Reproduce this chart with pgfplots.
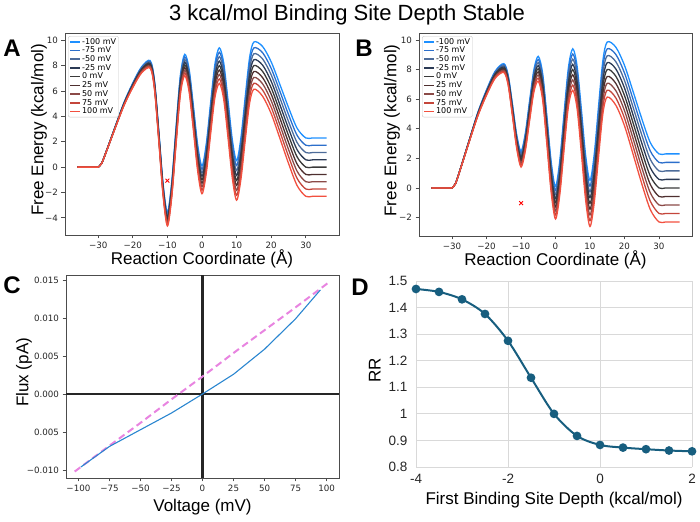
\documentclass[border=0pt]{standalone}
\usepackage{pgfplots}
\pgfplotsset{compat=1.18}
\usepackage{pgfplotstable}
\usepackage{fontspec}
\setmainfont{Liberation Sans}
\newfontfamily\dejavu{DejaVu Sans}
\definecolor{v1}{HTML}{1E90FF}
\definecolor{v2}{HTML}{2C6FCB}
\definecolor{v3}{HTML}{4D6C9A}
\definecolor{v4}{HTML}{2B3A55}
\definecolor{v5}{HTML}{3A3A3A}
\definecolor{v6}{HTML}{4E2F2F}
\definecolor{v7}{HTML}{8B4A47}
\definecolor{v8}{HTML}{C4463B}
\definecolor{v9}{HTML}{F2503F}
\definecolor{cblue}{HTML}{2A86D0}
\definecolor{cpink}{HTML}{E884E0}
\definecolor{dcol}{HTML}{175E7F}

\pgfplotstableread{
x m100 m75 m50 m25 z p25 p50 p75 p100
-36 0 0 0 0 0 0 0 0 0
-30 0 0 0 0 0 0 0 0 0
nan nan nan nan nan nan nan nan nan nan
-30 0 0 0 0 0 0 0 0 0
-29 0.31 0.31 0.305 0.305 0.3 0.295 0.295 0.29 0.29
-27.5 1.37 1.365 1.36 1.355 1.35 1.345 1.34 1.335 1.33
-25 3.26 3.245 3.23 3.215 3.2 3.185 3.17 3.155 3.14
-22.5 5.12 5.09 5.06 5.03 5.0 4.97 4.94 4.91 4.88
-20 6.63 6.585 6.54 6.495 6.45 6.405 6.36 6.315 6.27
-17.5 7.89 7.83 7.77 7.71 7.65 7.59 7.53 7.47 7.41
-15 8.4 8.325 8.25 8.175 8.1 8.025 7.95 7.875 7.8
-13.75 6.85 6.765 6.68 6.595 6.51 6.425 6.34 6.255 6.17
-12.5 2.89 2.79 2.69 2.59 2.49 2.39 2.29 2.19 2.09
-11.25 -1.32 -1.435 -1.55 -1.665 -1.78 -1.895 -2.01 -2.125 -2.24
-10 -3.56 -3.695 -3.83 -3.965 -4.1 -4.235 -4.37 -4.505 -4.64
-8.75 -1.19 -1.34 -1.49 -1.64 -1.79 -1.94 -2.09 -2.24 -2.39
-7.5 3.14 2.97 2.8 2.63 2.46 2.29 2.12 1.95 1.78
-6.25 7.23 7.04 6.85 6.66 6.47 6.28 6.09 5.9 5.71
-5 8.89 8.68 8.47 8.26 8.05 7.84 7.63 7.42 7.21
-3.75 7.77 7.545 7.32 7.095 6.87 6.645 6.42 6.195 5.97
-2.5 4.85 4.61 4.37 4.13 3.89 3.65 3.41 3.17 2.93
-1.25 1.76 1.5 1.24 0.98 0.72 0.46 0.2 -0.06 -0.32
0 0.1 -0.175 -0.45 -0.725 -1.0 -1.275 -1.55 -1.825 -2.1
1.25 1.87 1.58 1.29 1.0 0.71 0.42 0.13 -0.16 -0.45
2.5 5.1 4.79 4.48 4.17 3.86 3.55 3.24 2.93 2.62
3.75 8.15 7.82 7.49 7.16 6.83 6.5 6.17 5.84 5.51
5 9.4 9.05 8.7 8.35 8.0 7.65 7.3 6.95 6.6
6.25 8.26 7.9 7.54 7.18 6.82 6.46 6.1 5.74 5.38
7.5 5.32 4.95 4.58 4.21 3.84 3.47 3.1 2.73 2.36
8.75 2.19 1.81 1.43 1.05 0.67 0.29 -0.09 -0.47 -0.85
10 0.51 0.12 -0.27 -0.66 -1.05 -1.44 -1.83 -2.22 -2.61
11.25 2.31 1.9 1.49 1.08 0.67 0.26 -0.15 -0.56 -0.97
12.5 5.56 5.13 4.7 4.27 3.84 3.41 2.98 2.55 2.12
13.75 8.62 8.17 7.72 7.27 6.82 6.37 5.92 5.47 5.02
15 9.86 9.395 8.93 8.465 8.0 7.535 7.07 6.605 6.14
17.5 9.51 9.02 8.53 8.04 7.55 7.06 6.57 6.08 5.59
20 8.29 7.78 7.27 6.76 6.25 5.74 5.23 4.72 4.21
22.5 6.52 5.99 5.46 4.93 4.4 3.87 3.34 2.81 2.28
25 4.7 4.15 3.6 3.05 2.5 1.95 1.4 0.85 0.3
27.5 3.06 2.495 1.93 1.365 0.8 0.235 -0.33 -0.895 -1.46
30 2.3 1.725 1.15 0.575 0 -0.575 -1.15 -1.725 -2.3
32 2.3 1.725 1.15 0.575 0 -0.575 -1.15 -1.725 -2.3
36 2.3 1.725 1.15 0.575 0 -0.575 -1.15 -1.725 -2.3
}\tabA

\pgfplotstableread{
x m100 m75 m50 m25 z p25 p50 p75 p100
-36 0 0 0 0 0 0 0 0 0
-30 0 0 0 0 0 0 0 0 0
nan nan nan nan nan nan nan nan nan nan
-30 0 0 0 0 0 0 0 0 0
-29 0.31 0.31 0.305 0.305 0.3 0.295 0.295 0.29 0.29
-27.5 1.37 1.365 1.36 1.355 1.35 1.345 1.34 1.335 1.33
-25 3.26 3.245 3.23 3.215 3.2 3.185 3.17 3.155 3.14
-22.5 5.12 5.09 5.06 5.03 5.0 4.97 4.94 4.91 4.88
-20 6.63 6.585 6.54 6.495 6.45 6.405 6.36 6.315 6.27
-17.5 7.89 7.83 7.77 7.71 7.65 7.59 7.53 7.47 7.41
-15 8.4 8.325 8.25 8.175 8.1 8.025 7.95 7.875 7.8
-13.75 7.64 7.555 7.47 7.385 7.3 7.215 7.13 7.045 6.96
-12.5 5.67 5.57 5.47 5.37 5.27 5.17 5.07 4.97 4.87
-11.25 3.58 3.465 3.35 3.235 3.12 3.005 2.89 2.775 2.66
-10 2.49 2.355 2.22 2.085 1.95 1.815 1.68 1.545 1.41
-8.75 3.71 3.56 3.41 3.26 3.11 2.96 2.81 2.66 2.51
-7.5 5.92 5.75 5.58 5.41 5.24 5.07 4.9 4.73 4.56
-6.25 8.02 7.83 7.64 7.45 7.26 7.07 6.88 6.69 6.5
-5 8.89 8.68 8.47 8.26 8.05 7.84 7.63 7.42 7.21
-3.75 7.77 7.545 7.32 7.095 6.87 6.645 6.42 6.195 5.97
-2.5 4.85 4.61 4.37 4.13 3.89 3.65 3.41 3.17 2.93
-1.25 1.76 1.5 1.24 0.98 0.72 0.46 0.2 -0.06 -0.32
0 0.1 -0.175 -0.45 -0.725 -1.0 -1.275 -1.55 -1.825 -2.1
1.25 1.87 1.58 1.29 1.0 0.71 0.42 0.13 -0.16 -0.45
2.5 5.1 4.79 4.48 4.17 3.86 3.55 3.24 2.93 2.62
3.75 8.15 7.82 7.49 7.16 6.83 6.5 6.17 5.84 5.51
5 9.4 9.05 8.7 8.35 8.0 7.65 7.3 6.95 6.6
6.25 8.26 7.9 7.54 7.18 6.82 6.46 6.1 5.74 5.38
7.5 5.32 4.95 4.58 4.21 3.84 3.47 3.1 2.73 2.36
8.75 2.19 1.81 1.43 1.05 0.67 0.29 -0.09 -0.47 -0.85
10 0.51 0.12 -0.27 -0.66 -1.05 -1.44 -1.83 -2.22 -2.61
11.25 2.31 1.9 1.49 1.08 0.67 0.26 -0.15 -0.56 -0.97
12.5 5.56 5.13 4.7 4.27 3.84 3.41 2.98 2.55 2.12
13.75 8.62 8.17 7.72 7.27 6.82 6.37 5.92 5.47 5.02
15 9.86 9.395 8.93 8.465 8.0 7.535 7.07 6.605 6.14
17.5 9.51 9.02 8.53 8.04 7.55 7.06 6.57 6.08 5.59
20 8.29 7.78 7.27 6.76 6.25 5.74 5.23 4.72 4.21
22.5 6.52 5.99 5.46 4.93 4.4 3.87 3.34 2.81 2.28
25 4.7 4.15 3.6 3.05 2.5 1.95 1.4 0.85 0.3
27.5 3.06 2.495 1.93 1.365 0.8 0.235 -0.33 -0.895 -1.46
30 2.3 1.725 1.15 0.575 0 -0.575 -1.15 -1.725 -2.3
32 2.3 1.725 1.15 0.575 0 -0.575 -1.15 -1.725 -2.3
36 2.3 1.725 1.15 0.575 0 -0.575 -1.15 -1.725 -2.3
}\tabB

\pgfplotsset{
  mplframe/.style={
    scale only axis,
    tick align=outside, tick pos=left,
    major tick length=3.5pt,
    tick style={black!70, line width=0.8pt},
    axis line style={black!70, line width=0.9pt},
    ticklabel style={font=\dejavu\fontsize{8.7}{10}\selectfont, text=black!85},
    label style={font=\fontsize{17}{20}\selectfont},
  },
  landscape/.style={
    mplframe,
    xmin=-39.6, xmax=39.6,
    unbounded coords=jump,
    xtick={-30,-20,-10,0,10,20,30},
    xticklabels={−30,−20,−10,0,10,20,30},
    xlabel={Reaction Coordinate (Å)},
    ylabel={Free Energy (kcal/mol)},
    legend cell align=left,
    legend style={at={(axis description cs:0.011,0.985)}, anchor=north west,
      font=\dejavu\fontsize{8}{8.6}\selectfont, draw=black!22, rounded corners=2pt,
      fill=white, fill opacity=0.85, text opacity=1, inner xsep=1.5pt, inner ysep=1pt,
      row sep=-0.5pt, nodes={inner sep=0.9pt}},
    legend image code/.code={\draw[#1, line width=1.5pt] (0pt,0pt) -- (10pt,0pt);},
  },
  ecurve/.style={smooth, line width=1.3pt},
}

\begin{document}
\begin{tikzpicture}
\path[use as bounding box] (0pt,0pt) rectangle (700pt,521pt);
\node[font=\fontsize{22}{26}\selectfont] at (347pt,506pt) {3 kcal/mol Binding Site Depth Stable};
\node[font=\bfseries\fontsize{24}{28}\selectfont] at (12pt,473pt) {A};
\node[font=\bfseries\fontsize{24}{28}\selectfont] at (364pt,473pt) {B};
\node[font=\bfseries\fontsize{24}{28}\selectfont] at (12pt,236pt) {C};
\node[font=\bfseries\fontsize{24}{28}\selectfont] at (360pt,234pt) {D};

% ---------- Panel A ----------
\begin{axis}[landscape, at={(65pt,286pt)}, anchor=south west,
  width=274pt, height=202pt, ymin=-5.35, ymax=10.57,
  ytick={-4,-2,0,2,4,6,8,10}, yticklabels={−4,−2,0,2,4,6,8,10},
  xlabel style={at={(axis description cs:0.5,-0.119)}, anchor=center},
  ylabel style={at={(axis description cs:-0.095,0.52)}, anchor=center}]
\addplot[ecurve, v1] table[x=x,y=m100]{\tabA}; \addlegendentry{-100 mV}
\addplot[ecurve, v2] table[x=x,y=m75]{\tabA}; \addlegendentry{-75 mV}
\addplot[ecurve, v3] table[x=x,y=m50]{\tabA}; \addlegendentry{-50 mV}
\addplot[ecurve, v4] table[x=x,y=m25]{\tabA}; \addlegendentry{-25 mV}
\addplot[ecurve, v5] table[x=x,y=z]{\tabA}; \addlegendentry{0 mV}
\addplot[ecurve, v6] table[x=x,y=p25]{\tabA}; \addlegendentry{25 mV}
\addplot[ecurve, v7] table[x=x,y=p50]{\tabA}; \addlegendentry{50 mV}
\addplot[ecurve, v8] table[x=x,y=p75]{\tabA}; \addlegendentry{75 mV}
\addplot[ecurve, v9] table[x=x,y=p100]{\tabA}; \addlegendentry{100 mV}
\addplot[forget plot, only marks, mark=x, mark size=2.7pt, red, line width=0.9pt] coordinates {(-10,-1.07)};
\end{axis}

% ---------- Panel B ----------
\begin{axis}[landscape, at={(419pt,285pt)}, anchor=south west,
  width=273pt, height=203pt, ymin=-3.25, ymax=10.47,
  ytick={-2,0,2,4,6,8,10}, yticklabels={−2,0,2,4,6,8,10},
  xlabel style={at={(axis description cs:0.5,-0.118)}, anchor=center},
  ylabel style={at={(axis description cs:-0.099,0.52)}, anchor=center}]
\addplot[ecurve, v1] table[x=x,y=m100]{\tabB}; \addlegendentry{-100 mV}
\addplot[ecurve, v2] table[x=x,y=m75]{\tabB}; \addlegendentry{-75 mV}
\addplot[ecurve, v3] table[x=x,y=m50]{\tabB}; \addlegendentry{-50 mV}
\addplot[ecurve, v4] table[x=x,y=m25]{\tabB}; \addlegendentry{-25 mV}
\addplot[ecurve, v5] table[x=x,y=z]{\tabB}; \addlegendentry{0 mV}
\addplot[ecurve, v6] table[x=x,y=p25]{\tabB}; \addlegendentry{25 mV}
\addplot[ecurve, v7] table[x=x,y=p50]{\tabB}; \addlegendentry{50 mV}
\addplot[ecurve, v8] table[x=x,y=p75]{\tabB}; \addlegendentry{75 mV}
\addplot[ecurve, v9] table[x=x,y=p100]{\tabB}; \addlegendentry{100 mV}
\addplot[forget plot, only marks, mark=x, mark size=2.7pt, red, line width=0.9pt] coordinates {(-10,-1.03)};
\end{axis}

% ---------- Panel C ----------
\begin{axis}[mplframe, at={(66pt,43pt)}, anchor=south west,
  width=273pt, height=203pt,
  xmin=-110, xmax=110, ymin=-0.01105, ymax=0.01566,
  scaled y ticks=false,
  xtick={-100,-75,-50,-25,0,25,50,75,100},
  xticklabels={−100,−75,−50,−25,0,25,50,75,100},
  ytick={-0.01,-0.005,0,0.005,0.01,0.015},
  yticklabels={−0.010,0.005,0.000,0.005,0.010,0.015},
  xlabel={Voltage (mV)}, ylabel={Flux (pA)},
  xlabel style={at={(axis description cs:0.5,-0.143)}, anchor=center},
  ylabel style={at={(axis description cs:-0.154,0.52)}, anchor=center}]
\addplot[black!85, line width=2pt] coordinates {(-110,0) (110,0)};
\addplot[black!85, line width=2.2pt] coordinates {(0,-0.01105) (0,0.01566)};
\addplot[cpink, line width=2pt, dash pattern=on 7pt off 4pt] coordinates {
(-103,-0.0102) (-75,-0.0068) (-50,-0.0038) (-25,-0.0007) (0,0.0023) (25,0.0054) (50,0.0084) (75,0.0114) (101,0.0146)};
\addplot[cblue, line width=1.1pt] coordinates {
(-98,-0.0096) (-75,-0.0069) (-50,-0.0047) (-25,-0.0025) (0,0) (25,0.0026) (50,0.0059) (75,0.0099) (95,0.0137)};
\end{axis}

% ---------- Panel D ----------
\begin{axis}[scale only axis, at={(416pt,54pt)}, anchor=south west,
  width=276pt, height=186pt, clip=false,
  xmin=-4, xmax=2, ymin=0.8, ymax=1.5,
  axis line style={draw=none}, major tick length=0pt,
  grid=major, grid style={black!15, line width=0.8pt},
  xtick={-4,-2,0,2}, xticklabels={-4,-2,0,2},
  ytick={0.8,0.9,1,1.1,1.2,1.3,1.4,1.5},
  yticklabels={0.8,0.9,1,1.1,1.2,1.3,1.4,1.5},
  ticklabel style={font=\fontsize{13.5}{16}\selectfont, text=black!85},
  yticklabel style={xshift=-5pt},
  xticklabel style={yshift=-4pt},
  label style={font=\fontsize{17}{20}\selectfont},
  xlabel={First Binding Site Depth (kcal/mol)}, ylabel={RR},
  xlabel style={at={(axis description cs:0.5,-0.177)}, anchor=center},
  ylabel style={at={(axis description cs:-0.149,0.52)}, anchor=center}]
\addplot[smooth, dcol, line width=2pt, mark=*, mark size=3.3pt, mark options={fill=dcol, draw=dcol}] coordinates {
(-4,1.470) (-3.5,1.459) (-3,1.431) (-2.5,1.376) (-2,1.275) (-1.5,1.136) (-1,1.000) (-0.5,0.917) (0,0.883) (0.5,0.873) (1,0.867) (1.5,0.862) (2,0.859)};
\end{axis}
\end{tikzpicture}
\end{document}
